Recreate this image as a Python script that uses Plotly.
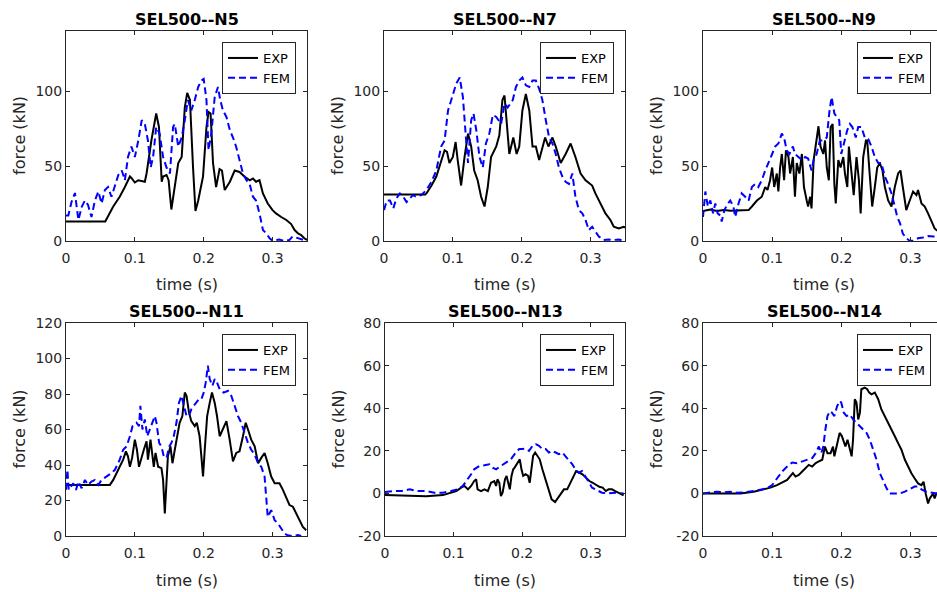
import plotly.graph_objects as go

# ---------------- data ----------------
titles = ["SEL500--N5", "SEL500--N7", "SEL500--N9", "SEL500--N11", "SEL500--N13", "SEL500--N14"]
series_names = ["EXP", "FEM"]
x_tickvals = [0, 0.1, 0.2, 0.3]
x_ticktext = ["0", "0.1", "0.2", "0.3"]
y_ticks_top = [0, 50, 100]
y_ticks_n11 = [0, 20, 40, 60, 80, 100, 120]
y_ticks_low = [-20, 0, 20, 40, 60, 80]

n5_exp_t = [0, 0.057, 0.0686, 0.078, 0.0855, 0.0928, 0.095, 0.1, 0.105, 0.1145, 0.117, 0.124, 0.131, 0.135, 0.139, 0.141, 0.146, 0.149, 0.153, 0.158, 0.163, 0.168, 0.1725, 0.176, 0.18, 0.1845, 0.188, 0.192, 0.195, 0.199, 0.204, 0.207, 0.21, 0.2135, 0.218, 0.223, 0.2265, 0.2305, 0.238, 0.245, 0.252, 0.259, 0.267, 0.2715, 0.276, 0.281, 0.286, 0.293, 0.3, 0.305, 0.3125, 0.32, 0.327, 0.332, 0.337, 0.3415, 0.346, 0.35]
n5_exp_f = [13, 13, 23, 29.5, 36, 43, 42, 39, 40.5, 39.5, 45, 67, 85, 76, 39.5, 43, 44, 40.5, 21, 36, 52, 56, 89, 98.7, 94, 49, 20, 27, 34, 43, 76, 86, 85, 52, 36, 48, 47, 34, 39.5, 47, 46, 43, 40.5, 41.7, 39.5, 40.5, 31.7, 25, 20.6, 18.4, 16, 14, 11.3, 7.3, 5, 4, 1.8, 0.7]
n5_fem_t = [0, 0.0034, 0.008, 0.013, 0.018, 0.023, 0.0275, 0.032, 0.037, 0.042, 0.047, 0.0517, 0.0565, 0.061, 0.066, 0.071, 0.076, 0.081, 0.0855, 0.09, 0.095, 0.1, 0.105, 0.11, 0.1145, 0.119, 0.123, 0.1265, 0.131, 0.136, 0.141, 0.146, 0.151, 0.1555, 0.158, 0.163, 0.168, 0.1725, 0.177, 0.182, 0.187, 0.192, 0.1966, 0.2, 0.204, 0.207, 0.211, 0.216, 0.2207, 0.224, 0.228, 0.233, 0.238, 0.2425, 0.247, 0.252, 0.257, 0.262, 0.2667, 0.2715, 0.276, 0.281, 0.286, 0.291, 0.2957, 0.3, 0.305, 0.31, 0.317, 0.3246, 0.329, 0.337, 0.344, 0.35]
n5_fem_f = [17, 17, 26, 32, 14, 23, 27, 24, 16, 27, 33, 25, 34, 36, 29.5, 36, 44, 47, 40.5, 56, 63, 56, 67, 80.5, 78, 67, 49, 56, 76, 71.6, 56, 49, 45, 76, 78, 63, 69, 80.5, 94, 87, 94, 102.7, 107, 108, 94, 60.5, 71.6, 96, 102.7, 94, 87, 82.7, 73.8, 69, 63, 54, 45, 40.5, 38, 29.5, 27, 18.4, 7.3, 5, 1.8, 0.2, 0.7, 1, 0, 0.7, 3, 2, 0.7, 0]

n7_exp_t = [0, 0.06, 0.0616, 0.069, 0.076, 0.083, 0.088, 0.0915, 0.095, 0.1, 0.104, 0.107, 0.112, 0.117, 0.122, 0.1266, 0.131, 0.136, 0.141, 0.146, 0.1507, 0.1555, 0.163, 0.1675, 0.172, 0.175, 0.178, 0.182, 0.1878, 0.1926, 0.1964, 0.201, 0.206, 0.211, 0.2157, 0.2205, 0.2253, 0.23, 0.234, 0.2388, 0.2446, 0.2494, 0.2566, 0.2638, 0.271, 0.278, 0.2855, 0.2927, 0.3023, 0.307, 0.3144, 0.3216, 0.3288, 0.3337, 0.341, 0.348, 0.35]
n7_exp_f = [31, 31, 31.7, 37, 43, 54, 60.5, 59.4, 52, 56, 66, 54, 37, 56, 71.6, 63, 47, 40.5, 29.5, 23, 36, 56, 63, 70.5, 94, 97, 80.5, 58, 69, 58, 63, 87, 98, 87, 63, 63, 54, 63, 69, 63, 69, 63, 52, 58, 65, 56, 45, 40.5, 37, 31.7, 25, 18.4, 14, 9.5, 8.4, 9.5, 9]
n7_fem_t = [0, 0.004, 0.0087, 0.0135, 0.018, 0.023, 0.028, 0.0327, 0.0375, 0.042, 0.047, 0.054, 0.0616, 0.069, 0.076, 0.083, 0.088, 0.093, 0.0977, 0.105, 0.11, 0.1146, 0.1185, 0.122, 0.1266, 0.13, 0.134, 0.1387, 0.1435, 0.148, 0.153, 0.158, 0.163, 0.17, 0.175, 0.1796, 0.187, 0.1916, 0.1964, 0.201, 0.206, 0.211, 0.2157, 0.2205, 0.2253, 0.23, 0.235, 0.2398, 0.2446, 0.2494, 0.254, 0.259, 0.2638, 0.2686, 0.2735, 0.278, 0.283, 0.288, 0.2927, 0.2975, 0.3023, 0.307, 0.312, 0.319, 0.326, 0.3337, 0.341, 0.348]
n7_fem_f = [20.6, 27, 27, 21.7, 28.4, 31.7, 29.5, 26, 28.4, 30.6, 29.5, 30.6, 34, 39.5, 47, 63, 67, 87, 94, 105, 109, 96, 71.6, 52, 80.5, 85, 74, 56, 49, 65, 71.6, 84, 82.7, 78, 91.6, 89, 94, 102.7, 107, 109, 103.8, 102.7, 107, 107, 101.5, 94, 80.5, 69, 65, 58, 49, 43, 39.5, 38, 45, 29.5, 20.6, 18.4, 14, 7.3, 9.5, 6.2, 3, 0.7, 1, 0.7, 1, 0.2]

n9_exp_t = [0, 0.0106, 0.02, 0.03, 0.04, 0.066, 0.0707, 0.078, 0.085, 0.09, 0.0933, 0.097, 0.1, 0.103, 0.1067, 0.109, 0.1115, 0.114, 0.1173, 0.12, 0.1236, 0.126, 0.13, 0.133, 0.1356, 0.1394, 0.143, 0.146, 0.15, 0.152, 0.155, 0.157, 0.16, 0.1644, 0.167, 0.17, 0.174, 0.1765, 0.179, 0.182, 0.1846, 0.1875, 0.19, 0.192, 0.1957, 0.199, 0.2029, 0.2053, 0.2087, 0.211, 0.215, 0.218, 0.222, 0.2255, 0.228, 0.2317, 0.2356, 0.2375, 0.241, 0.2447, 0.2485, 0.252, 0.2558, 0.2596, 0.263, 0.2678, 0.2726, 0.2774, 0.2822, 0.2856, 0.289, 0.294, 0.299, 0.3038, 0.3087, 0.311, 0.316, 0.3207, 0.3255, 0.33, 0.335, 0.3375, 0.35]
n9_exp_f = [20, 21, 20, 20.6, 20.2, 20.6, 23, 27, 29.5, 36, 34, 40.5, 49, 36, 45, 33, 49, 58, 40.5, 60.5, 56, 45, 56, 29.5, 52, 45, 58, 36, 27, 23, 29.5, 21.7, 54, 69, 76.5, 63, 58, 67, 49, 40.5, 76, 78, 38, 25, 54, 49, 56, 45, 36, 63, 45, 30.6, 56, 40.5, 18.4, 56, 67, 67, 45, 23, 36, 49, 52, 47, 36, 27, 23, 36, 45, 47, 36, 20.6, 27, 33, 30.6, 34, 25, 23, 18.4, 14, 8.4, 7.3, 4]
n9_fem_t = [0, 0.0034, 0.007, 0.0106, 0.0145, 0.0178, 0.0212, 0.025, 0.027, 0.031, 0.0346, 0.0394, 0.044, 0.0466, 0.0514, 0.056, 0.061, 0.066, 0.0707, 0.0755, 0.08, 0.085, 0.09, 0.095, 0.1, 0.1043, 0.109, 0.114, 0.1173, 0.121, 0.125, 0.13, 0.133, 0.138, 0.143, 0.1476, 0.152, 0.157, 0.16, 0.1644, 0.169, 0.174, 0.179, 0.183, 0.186, 0.19, 0.193, 0.197, 0.2, 0.205, 0.2087, 0.2125, 0.216, 0.221, 0.2245, 0.229, 0.234, 0.239, 0.2437, 0.2485, 0.2534, 0.258, 0.263, 0.2678, 0.2726, 0.2774, 0.281, 0.285, 0.289, 0.294, 0.299, 0.3038, 0.311, 0.318, 0.3255, 0.333, 0.35]
n9_fem_f = [16, 33, 23, 27, 18.4, 25, 18.4, 17, 13, 20.6, 24, 27, 23, 16, 25, 31.7, 29.5, 27, 36, 38, 36, 40.5, 47, 52, 58, 63, 65, 71.6, 69, 60.5, 58, 63, 58, 56, 54, 56, 55, 47, 54, 58, 67, 67, 69, 87, 96, 85, 82.7, 80.5, 58, 67, 74, 78, 76, 69, 76, 76, 69, 68, 63, 56, 52, 52, 43, 38, 31.7, 23, 16, 11.7, 5, 1.8, 0.2, 0.2, 1.8, 2.4, 3.3, 3, 3]

n11_exp_t = [0, 0.0637, 0.0686, 0.076, 0.083, 0.087, 0.09, 0.0928, 0.096, 0.1, 0.103, 0.106, 0.1097, 0.113, 0.117, 0.119, 0.1227, 0.1256, 0.1275, 0.13, 0.1338, 0.1386, 0.141, 0.1435, 0.1459, 0.148, 0.1517, 0.1546, 0.158, 0.161, 0.165, 0.169, 0.1725, 0.175, 0.1787, 0.182, 0.187, 0.19, 0.194, 0.1966, 0.199, 0.2015, 0.205, 0.2087, 0.212, 0.216, 0.2193, 0.2232, 0.228, 0.233, 0.2377, 0.2425, 0.2473, 0.252, 0.257, 0.261, 0.2643, 0.269, 0.274, 0.279, 0.2836, 0.2884, 0.293, 0.298, 0.303, 0.31, 0.315, 0.32, 0.3246, 0.3295, 0.334, 0.339, 0.344, 0.3488]
n11_exp_f = [28.8, 28.8, 31.6, 37.3, 43, 47.7, 44.9, 39, 44, 54.3, 48.6, 39, 44.9, 48.6, 53.4, 43, 54.3, 44.9, 39, 46.8, 39, 38.2, 31.6, 12.7, 29.7, 44.9, 50.5, 41, 48.6, 56.2, 63.8, 67.6, 80.8, 79, 69.5, 64.7, 61.9, 63.8, 56.2, 44.9, 33.5, 48.6, 67.6, 75, 80.8, 75, 67.6, 56.2, 60, 64.7, 54.3, 42, 46.8, 47.7, 56.2, 63.8, 60, 54.3, 50.5, 41, 44, 46.8, 41, 33.5, 29.7, 29.7, 26, 22, 17.4, 16.5, 12.7, 8.9, 5.1, 3.2]
n11_fem_t = [0, 0.002, 0.004, 0.007, 0.0106, 0.0145, 0.018, 0.0227, 0.0275, 0.032, 0.037, 0.042, 0.047, 0.0517, 0.059, 0.066, 0.071, 0.078, 0.083, 0.088, 0.0928, 0.0966, 0.1024, 0.106, 0.108, 0.111, 0.1145, 0.118, 0.1217, 0.1266, 0.129, 0.1314, 0.1353, 0.1386, 0.142, 0.146, 0.15, 0.153, 0.1565, 0.1604, 0.164, 0.1676, 0.171, 0.175, 0.1787, 0.182, 0.1855, 0.1894, 0.193, 0.1966, 0.2, 0.203, 0.206, 0.2087, 0.2126, 0.216, 0.2193, 0.2232, 0.229, 0.2353, 0.24, 0.245, 0.2497, 0.2545, 0.259, 0.2643, 0.269, 0.274, 0.279, 0.2836, 0.2884, 0.2908, 0.293, 0.298, 0.303, 0.308, 0.3125, 0.3174, 0.322, 0.329, 0.337, 0.3415]
n11_fem_f = [26, 37.3, 26, 27.8, 29.7, 26, 30.7, 26.9, 31.6, 28.8, 30.7, 31.6, 28.8, 31.6, 33.5, 35.4, 37.3, 43, 48.6, 50.5, 56.2, 61.9, 63.8, 61.9, 73.3, 60, 65.7, 56.2, 60, 65.7, 67.6, 63.8, 52.4, 50.5, 44.9, 44, 50.5, 52.4, 56.2, 63.8, 75, 79, 73.3, 67.6, 67.6, 71.4, 73.3, 75, 77, 77, 80.8, 86.5, 96, 88.4, 84.6, 88.4, 86.5, 82.7, 80.8, 81.8, 79, 73.3, 67.6, 63.8, 58.1, 52.4, 48.6, 45.8, 41, 39, 33.5, 18.4, 10.8, 14.6, 8.9, 7, 4.2, 1.3, 0.4, 0, 0.6, 0]

n13_exp_t = [0, 0.036, 0.06, 0.0845, 0.094, 0.104, 0.111, 0.116, 0.121, 0.1256, 0.13, 0.133, 0.135, 0.14, 0.145, 0.15, 0.1546, 0.1594, 0.162, 0.164, 0.1667, 0.169, 0.1715, 0.175, 0.1773, 0.18, 0.182, 0.1845, 0.187, 0.189, 0.193, 0.1966, 0.199, 0.2015, 0.205, 0.2087, 0.211, 0.2135, 0.216, 0.219, 0.2222, 0.2256, 0.2295, 0.2343, 0.238, 0.243, 0.248, 0.2527, 0.2575, 0.261, 0.2657, 0.2705, 0.275, 0.2787, 0.2835, 0.288, 0.293, 0.298, 0.303, 0.3077, 0.3125, 0.3174, 0.322, 0.326, 0.331, 0.3357, 0.3406, 0.348]
n13_exp_f = [-0.8, -0.9, -1.3, -0.8, 0.3, 1.1, 2.7, 3.5, 1.9, 3.5, 5.8, 6.6, 1.9, 1.1, 1.9, 1.1, 5, 5.8, 3.5, 6.6, 5, -1.3, 0.3, 6.6, 8.2, 5, 1.9, 8.2, 11.3, 12.1, 14.5, 16, 11.3, 8.2, 9, 8.2, 5, 11.3, 17.6, 19.2, 17.6, 16, 11.3, 6.6, 1.9, -2.8, -4.1, -2, 0.3, 1.9, 1.9, 5, 8.2, 10.5, 9.7, 9, 7.4, 5.8, 5, 4.2, 3.1, 2.7, 1.1, 1.9, 1.9, 1.1, 0.3, -0.9]
n13_fem_t = [0, 0.012, 0.024, 0.036, 0.048, 0.06, 0.072, 0.0845, 0.0966, 0.106, 0.1135, 0.121, 0.1256, 0.13, 0.1377, 0.145, 0.152, 0.157, 0.162, 0.169, 0.176, 0.1836, 0.1908, 0.1957, 0.2, 0.205, 0.21, 0.215, 0.2198, 0.2246, 0.2295, 0.2343, 0.239, 0.244, 0.2488, 0.2536, 0.2585, 0.263, 0.268, 0.273, 0.2778, 0.2826, 0.2874, 0.292, 0.297, 0.302, 0.3068, 0.3116, 0.3164, 0.326, 0.3357, 0.348]
n13_fem_f = [0.6, 1.1, 1.1, 1.9, 1.1, 1.1, 0.3, 0.3, 1.1, 1.9, 3.5, 6.6, 9, 11.3, 12.9, 13.2, 13.7, 12.1, 11.3, 12.9, 14.5, 16, 19.2, 20.8, 20.8, 21, 20, 22.3, 23.1, 22.3, 20.8, 20.8, 19.2, 20, 19.2, 18.4, 19.2, 17.6, 16, 13.7, 11.3, 9.7, 10.5, 8.2, 5.8, 2.7, 1.9, 1.1, 0.3, 0, 0.3, 0]

n14_exp_t = [0, 0.0155, 0.0347, 0.054, 0.0733, 0.0878, 0.0975, 0.107, 0.1145, 0.1217, 0.1265, 0.13, 0.1338, 0.1386, 0.1435, 0.148, 0.153, 0.158, 0.163, 0.1676, 0.1725, 0.1763, 0.18, 0.1845, 0.188, 0.19, 0.194, 0.1976, 0.201, 0.206, 0.209, 0.2125, 0.215, 0.217, 0.2195, 0.222, 0.2245, 0.227, 0.229, 0.234, 0.2375, 0.2404, 0.2437, 0.2485, 0.2534, 0.258, 0.263, 0.2678, 0.2726, 0.2774, 0.282, 0.287, 0.292, 0.2966, 0.3014, 0.306, 0.311, 0.3159, 0.319, 0.322, 0.3255, 0.328, 0.333, 0.335, 0.3375, 0.35]
n14_exp_f = [0, 0, -0.3, 0, 0.8, 1.9, 2.7, 3.9, 5, 6.3, 8.2, 9.5, 7.9, 8.7, 10.3, 11.8, 13.4, 12.6, 14.2, 15, 15.8, 22, 18.9, 18.9, 22, 17.4, 23.7, 28.4, 26.8, 22, 25.2, 20.5, 17.4, 25.2, 44.2, 42.6, 34.7, 37.9, 48.9, 49.7, 48.9, 47.3, 46.5, 47.3, 44.2, 39.4, 36.3, 33.1, 30, 26.8, 23.7, 20.5, 15.8, 12.6, 9.5, 7.1, 4.7, 3.9, 5.5, 0, -4.7, -2.4, 0, -2.4, 0, -1]
n14_fem_t = [0, 0.0106, 0.02, 0.03, 0.0394, 0.049, 0.061, 0.0733, 0.085, 0.0925, 0.1, 0.107, 0.1145, 0.1217, 0.129, 0.136, 0.1435, 0.1505, 0.158, 0.163, 0.1676, 0.171, 0.174, 0.177, 0.18, 0.1835, 0.1865, 0.19, 0.194, 0.198, 0.2, 0.2036, 0.2077, 0.2125, 0.217, 0.222, 0.227, 0.2317, 0.2365, 0.2413, 0.246, 0.251, 0.2558, 0.2606, 0.2655, 0.27, 0.2774, 0.285, 0.292, 0.299, 0.306, 0.311, 0.316, 0.323, 0.33, 0.3375, 0.35]
n14_fem_f = [0, 0.3, 0.8, 0.5, 0.8, 0.3, 0.5, 1.1, 2.1, 2.4, 3.9, 7.1, 10.3, 12.6, 14.5, 14.2, 15, 15.8, 16.6, 18.9, 22, 18.9, 22, 30, 36.3, 38.6, 37.9, 36.3, 41, 43.4, 42.6, 37.9, 36.3, 37, 34.7, 33.1, 31.5, 30, 28.4, 25.2, 20.5, 15.8, 9.5, 5.5, 2.4, 0, 0, 0, 0.8, 1.9, 3.2, 3.2, 1.9, 0.8, 0.3, 0, 0]

panels = [
    (n5_exp_t, n5_exp_f, n5_fem_t, n5_fem_f, [0, 140], y_ticks_top),
    (n7_exp_t, n7_exp_f, n7_fem_t, n7_fem_f, [0, 140], y_ticks_top),
    (n9_exp_t, n9_exp_f, n9_fem_t, n9_fem_f, [0, 140], y_ticks_top),
    (n11_exp_t, n11_exp_f, n11_fem_t, n11_fem_f, [0, 120], y_ticks_n11),
    (n13_exp_t, n13_exp_f, n13_fem_t, n13_fem_f, [-20, 80], y_ticks_low),
    (n14_exp_t, n14_exp_f, n14_fem_t, n14_fem_f, [-20, 80], y_ticks_low),
]

# ---------------- layout geometry (pixels) ----------------
W, H = 937, 592
col_px = [[(66, 307), (384, 625), (703, 945)], [(66, 307), (385, 625), (703, 945)]]
row_px = [(31, 241), (323, 536)]
legend_px = [(296, 42), (614, 42), (931, 42), (296, 334), (614, 334), (931, 334)]
XMAX = 0.35

AX = "#262626"
FONT = "DejaVu Sans"

fig = go.Figure()
layout = dict(
    width=W, height=H, margin=dict(l=0, r=0, t=0, b=0, autoexpand=False),
    paper_bgcolor="white", plot_bgcolor="white",
    font=dict(family=FONT, size=14, color=AX),
    showlegend=True,
)
annotations = []

for i, (et, ef, ft, ff, yr, yt) in enumerate(panels):
    r, c = divmod(i, 3)
    x0, x1 = col_px[r][c]
    y0, y1 = row_px[r]
    xr = XMAX
    x1c = x1
    if x1 > W:
        xr = XMAX * (W - x0) / (x1 - x0)
        x1c = W
    xa = "xaxis" if i == 0 else f"xaxis{i+1}"
    ya = "yaxis" if i == 0 else f"yaxis{i+1}"
    xs = "x" if i == 0 else f"x{i+1}"
    ys = "y" if i == 0 else f"y{i+1}"
    lg = "legend" if i == 0 else f"legend{i+1}"
    layout[xa] = dict(
        domain=[x0 / W, x1c / W], range=[0, xr], anchor=ys,
        tickvals=x_tickvals, ticktext=x_ticktext,
        ticks="inside", ticklen=4, tickcolor=AX, tickwidth=1,
        showline=True, linecolor=AX, linewidth=1, mirror="ticks",
        showgrid=False, zeroline=False, fixedrange=True, automargin=False,
        ticklabelstandoff=4,
        tickfont=dict(family=FONT, size=14, color=AX),
    )
    layout[ya] = dict(
        domain=[1 - y1 / H, 1 - y0 / H], range=yr, anchor=xs,
        tickvals=yt, ticktext=[str(v) for v in yt],
        ticks="inside", ticklen=4, tickcolor=AX, tickwidth=1,
        showline=True, linecolor=AX, linewidth=1,
        mirror=("ticks" if x1 <= W else False),
        showgrid=False, zeroline=False, fixedrange=True, automargin=False,
        tickfont=dict(family=FONT, size=14, color=AX),
    )
    lx, ly = legend_px[i]
    layout[lg] = dict(
        x=lx / W, y=1 - ly / H, xanchor="right", yanchor="top",
        xref="paper", yref="paper",
        bgcolor="white", bordercolor=AX, borderwidth=1,
        font=dict(family=FONT, size=13, color="black"),
        tracegroupgap=0, itemwidth=30,
    )
    fig.add_trace(go.Scatter(x=et, y=ef, mode="lines", name=series_names[0],
                             line=dict(color="black", width=2),
                             xaxis=xs, yaxis=ys, legend=lg))
    fig.add_trace(go.Scatter(x=ft, y=ff, mode="lines", name=series_names[1],
                             line=dict(color="#0000ff", width=2, dash="7px,4px"),
                             xaxis=xs, yaxis=ys, legend=lg))
    cx = (x0 + x1) / 2
    annotations.append(dict(text=f"<b>{titles[i]}</b>", x=cx / W, y=1 - (y0 - 12) / H,
                            xref="paper", yref="paper", showarrow=False,
                            xanchor="center", yanchor="middle",
                            font=dict(family=FONT, size=16, color="black")))
    annotations.append(dict(text="time (s)", x=cx / W, y=1 - (y1 + 44) / H,
                            xref="paper", yref="paper", showarrow=False,
                            xanchor="center", yanchor="middle",
                            font=dict(family=FONT, size=16, color=AX)))
    annotations.append(dict(text="force (kN)", x=(x0 - 47) / W, y=1 - (y0 + y1) / 2 / H,
                            xref="paper", yref="paper", showarrow=False, textangle=-90,
                            xanchor="center", yanchor="middle",
                            font=dict(family=FONT, size=16, color=AX)))

layout["annotations"] = annotations
fig.update_layout(**layout)
fig.write_html("out.html",
               config={"displayModeBar": False},
               post_script="document.body.style.margin='0';document.body.style.overflow='hidden';")
